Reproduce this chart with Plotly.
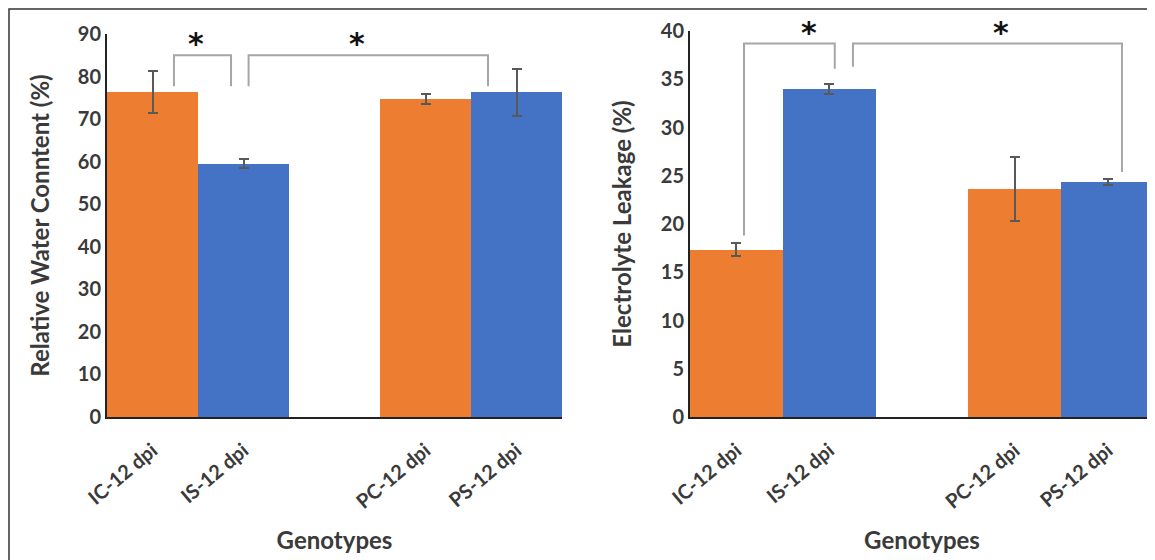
import plotly.graph_objects as go

# ---- data ----
categories = ["IC-12 dpi", "IS-12 dpi", "PC-12 dpi", "PS-12 dpi"]
slots = [0, 1, 3, 4]  # slot index of each category (slot 2 empty)
colors_by_cat = ["#ED7D31", "#4472C4", "#ED7D31", "#4472C4"]

rwc_values = [76.4, 59.5, 74.8, 76.3]
rwc_errors = [5.0, 1.1, 1.2, 5.5]

el_values = [17.35, 34.0, 23.6, 24.35]
el_errors = [0.7, 0.5, 3.3, 0.35]

# significance brackets: (x_left, x_right, y_top, y_left_end, y_right_end, star_x)
rwc_brackets = [(0.236, 0.863, 85.0, 77.7, 77.7, 0.48),
                (1.056, 3.687, 85.0, 77.7, 77.7, 2.25)]
el_brackets = [(0.082, 1.06, 38.7, 18.8, 36.1, 0.78),
               (1.256, 4.155, 38.7, 36.3, 25.4, 2.85)]

FONT = "Lato"
TXT = "#3a3a3a"
W, H = 1155, 560
OFF = 8  # page body margin

fig = go.Figure()

def add_bars(values, errors, xa, ya):
    fig.add_trace(go.Bar(
        x=slots, y=values, width=1.0,
        marker=dict(color=colors_by_cat, line=dict(width=0)),
        error_y=dict(type="data", array=errors, visible=True,
                     color="#595959", thickness=2, width=5),
        xaxis=xa, yaxis=ya, showlegend=False, hoverinfo="skip"))

add_bars(rwc_values, rwc_errors, "x", "y")
add_bars(el_values, el_errors, "x2", "y2")

shapes = []
annotations = []
def add_brackets(br, xr, yr):
    for xl, xrt, yt, yl, yrr, sx in br:
        shapes.append(dict(type="path", xref=xr, yref=yr,
                           path=f"M {xl},{yl} L {xl},{yt} L {xrt},{yt} L {xrt},{yrr}",
                           line=dict(color="#a6a6a6", width=2)))
        annotations.append(dict(x=sx, y=yt, xref=xr, yref=yr, text="<b>*</b>",
                                showarrow=False, yanchor="bottom", yshift=-8,
                                font=dict(family="DejaVu Sans", size=30, color="#111")))

add_brackets(rwc_brackets, "x", "y")
add_brackets(el_brackets, "x2", "y2")

# outer frame
shapes.append(dict(type="rect", xref="paper", yref="paper",
                   x0=1/W, x1=1.02, y0=-0.02, y1=1-1/H,
                   line=dict(color="#333", width=1.5)))

tickfont = dict(family=FONT, size=20, color=TXT, weight="bold")
titlefont = dict(family=FONT, size=24, color=TXT, weight="bold")

xcommon = dict(range=[-0.5, 4.5], tickvals=slots, ticktext=categories,
               tickangle=-40, tickfont=tickfont, showline=True,
               linecolor="#222", linewidth=2, showgrid=False, zeroline=False,
               ticks="", fixedrange=True, automargin=False, ticklabelstandoff=12)
ycommon = dict(showline=True, linecolor="#222", linewidth=2, showgrid=False,
               zeroline=False, ticks="", tickfont=tickfont, ticklabelstandoff=0,
               automargin=False)

def xd(a, b):
    return [(a - OFF) / W, min(1.0, (b - OFF) / W)]

def yd(bottom, top):
    return [1 - (bottom - OFF) / H, 1 - (top - OFF) / H]

fig.update_layout(
    width=W, height=H,
    margin=dict(l=0, r=0, t=0, b=0),
    paper_bgcolor="white", plot_bgcolor="white",
    bargap=0,
    xaxis=dict(domain=xd(107, 562), anchor="y",
               title=dict(text="Genotypes", font=titlefont, standoff=20), **xcommon),
    yaxis=dict(domain=yd(417, 34), anchor="x", range=[0, 90],
               dtick=10,
               title=dict(text="Relative Water Conntent (%)", font=titlefont, standoff=21),
               **ycommon),
    xaxis2=dict(domain=xd(690, 1154), anchor="y2",
                title=dict(text="Genotypes", font=titlefont, standoff=20), **xcommon),
    yaxis2=dict(domain=yd(417, 31), anchor="x2", range=[0, 40],
                dtick=5,
                title=dict(text="Electrolyte Leakage (%)", font=titlefont, standoff=22),
                **ycommon),
    shapes=shapes,
    annotations=annotations,
)

fig.write_html("out.html")
